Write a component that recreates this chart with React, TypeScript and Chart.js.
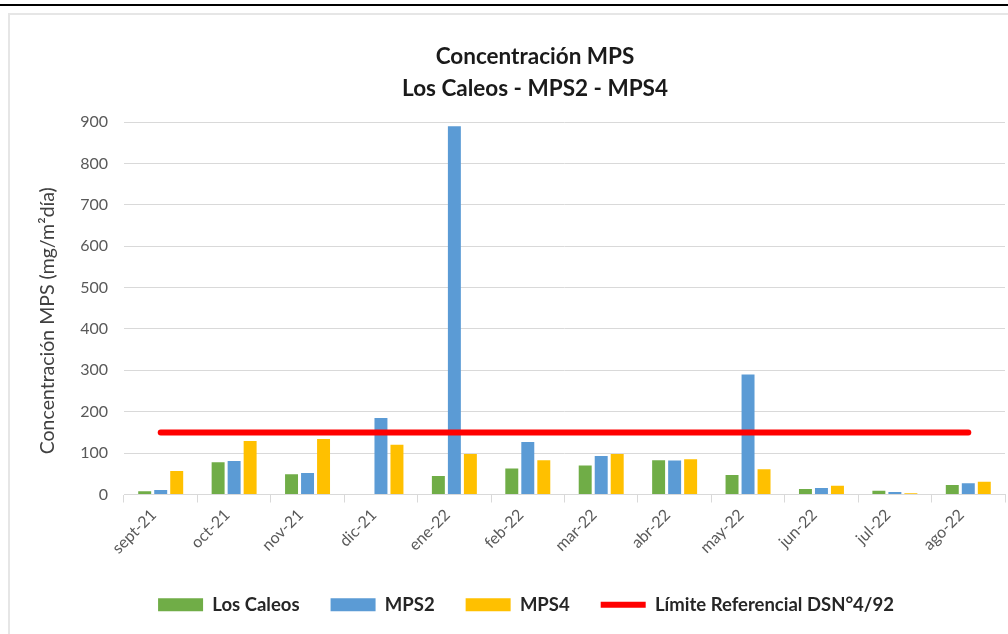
import React, { useEffect, useRef } from "react";
import { Chart, registerables } from "chart.js";

Chart.register(...registerables);

const categories = ["sept-21", "oct-21", "nov-21", "dic-21", "ene-22", "feb-22", "mar-22", "abr-22", "may-22", "jun-22", "jul-22", "ago-22"];
const losCaleos = [8, 78, 49, null, 45, 63, 70, 83, 47, 13, 9, 23];
const mps2 = [11, 81, 52, 185, 890, 127, 93, 82, 290, 16, 6, 27];
const mps4 = [57, 129, 134, 120, 98, 83, 98, 85, 61, 21, 3, 31];
const limite = [150, 150, 150, 150, 150, 150, 150, 150, 150, 150, 150, 150];
const titleLines = ["Concentración MPS", "Los Caleos - MPS2 - MPS4"];
const yTitle = "Concentración MPS (mg/m²día)";
const yMin = 0;
const yMax = 900;
const yStep = 100;

const FONT = "Lato, 'Open Sans', sans-serif";

// nudges the legend row a little to the left, as in the reference
const legendShift = {
  id: "legendShift",
  afterLayout(chart: any) {
    const lg = chart.legend;
    if (lg) {
      lg.left -= 9;
      lg.right -= 9;
    }
  },
};

export default function App() {
  const ref = useRef<HTMLCanvasElement | null>(null);

  useEffect(() => {
    if (!ref.current) return;
    const chart = new Chart(ref.current, {
      type: "bar",
      data: {
        labels: categories,
        datasets: [
          { label: "Los Caleos", data: losCaleos, backgroundColor: "#70ad47", borderWidth: 0, pointStyle: "rect" } as any,
          { label: "MPS2", data: mps2, backgroundColor: "#5b9bd5", borderWidth: 0, pointStyle: "rect" } as any,
          { label: "MPS4", data: mps4, backgroundColor: "#ffc000", borderWidth: 0, pointStyle: "rect" } as any,
          {
            type: "line",
            label: "Límite Referencial DSN°4/92",
            data: limite,
            borderColor: "#ff0000",
            backgroundColor: "#ff0000",
            borderWidth: 6,
            borderCapStyle: "round",
            pointRadius: 0,
            pointStyle: "line",
            order: -1,
          } as any,
        ],
      },
      plugins: [legendShift],
      options: {
        responsive: false,
        animation: false,
        layout: { padding: { left: 36, right: 6, top: 0, bottom: 0 } },
        datasets: {
          bar: { categoryPercentage: 0.654, barPercentage: 0.81 },
        },
        plugins: {
          title: {
            display: true,
            text: titleLines,
            color: "#1a1a1a",
            font: { family: FONT, size: 22.5, weight: "bold", lineHeight: "32px" },
            padding: { top: 41, bottom: 17 },
          },
          legend: {
            position: "bottom",
            labels: {
              usePointStyle: true,
              pointStyleWidth: 45,
              boxHeight: 13,
              padding: 31,
              color: "#262626",
              font: { family: FONT, size: 18.5, weight: "bold" },
              sort: (a: any, b: any) => a.datasetIndex - b.datasetIndex,
            },
          },
          tooltip: { enabled: false },
        },
        scales: {
          x: {
            grid: { drawOnChartArea: false, drawTicks: true, tickLength: 8, color: "#d9d9d9", offset: true },
            border: { display: true, color: "#d9d9d9", width: 1 },
            ticks: {
              color: "#595959",
              font: { family: FONT, size: 16 },
              maxRotation: 45,
              minRotation: 45,
              padding: 3,
              labelOffset: -7,
            },
            afterFit: (s: any) => {
              s.height = 70;
            },
          },
          y: {
            min: yMin,
            max: yMax,
            grid: { color: "#d9d9d9", drawTicks: false },
            border: { display: false },
            ticks: {
              stepSize: yStep,
              color: "#595959",
              font: { family: FONT, size: 16 },
              padding: 16,
            },
            title: {
              display: true,
              text: yTitle + "\u00a0\u00a0\u00a0\u00a0\u00a0",
              color: "#404040",
              font: { family: FONT, size: 19.5, lineHeight: 1.2 },
              padding: { top: 0, bottom: 0 },
            },
            afterFit: (s: any) => {
              s.width = 88;
            },
          },
          yR: {
            type: "linear",
            position: "right",
            display: true,
            grid: { display: false },
            border: { display: false },
            ticks: { display: false },
            afterFit: (s: any) => {
              s.width = 29;
            },
          },
        },
      } as any,
    });
    return () => chart.destroy();
  }, []);

  return (
    <div style={{ position: "fixed", left: 0, top: 0, width: 1008, height: 634, overflow: "hidden", background: "#ffffff" }}>
      <div style={{ position: "absolute", left: 0, top: 4, width: 1008, height: 2, background: "#000000" }} />
      <div
        style={{
          position: "absolute",
          left: 8,
          top: 13,
          width: 1100,
          height: 700,
          border: "2px solid #e6e6e6",
          boxSizing: "border-box",
        }}
      />
      <canvas ref={ref} width={1040} height={624} style={{ position: "absolute", left: 0, top: 0, width: 1040, height: 624 }} />
    </div>
  );
}
